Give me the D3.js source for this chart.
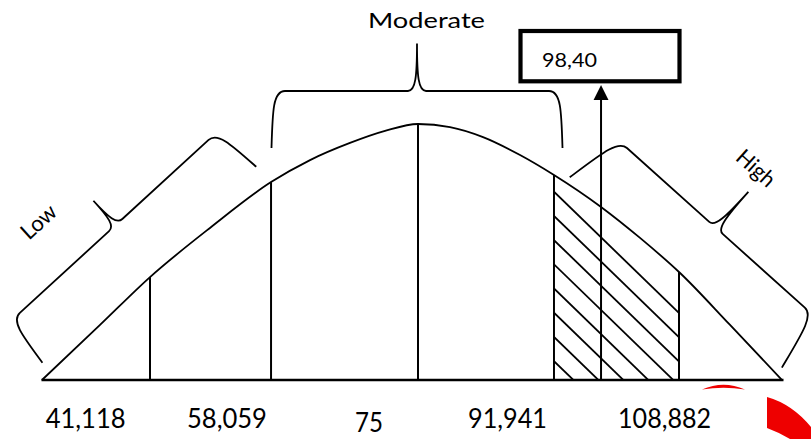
<!DOCTYPE html>
<html><head><meta charset="utf-8">
<script src="https://cdn.jsdelivr.net/npm/d3@7"></script>
<style>html,body{margin:0;padding:0;background:#fff;} svg{display:block;}</style>
</head><body>
<svg id="c" width="811" height="439"></svg>
<script>
// ---- data ----
const curveX = [27460, 34800, 41120, 48700, 56420, 61350, 66400, 70830, 75000, 79050, 83220, 87900, 92190, 98140, 103070, 108130, 114450, 121020];
const curveY = [0, 0.215, 0.402, 0.594, 0.773, 0.859, 0.926, 0.973, 1.0, 0.988, 0.949, 0.879, 0.801, 0.676, 0.555, 0.418, 0.215, 0];
const dividers = [41120, 56420, 75000, 92190, 108000];
const hatchRange = [92190, 108000];
const markerValue = 98140;
const markerLabel = "98,40";
const tickLabels = ["41,118", "58,059", "75", "91,941", "108,882"];
const tickLabelAt = [32980, 50850, 68800, 86320, 106170];
const groupLabels = ["Low", "Moderate", "High"];

// ---- layout / style ----
const FONT = "Lato, Carlito, Calibri, 'Open Sans', sans-serif";
const svg = d3.select("#c");
const x = d3.scaleLinear().domain([58059, 91941]).range([284, 552]);
const y = d3.scaleLinear().domain([0, 1]).range([380, 124]);
const pts = curveX.map((v, i) => [v, curveY[i]]);

// hatch
const hx0 = x(hatchRange[0]), hx1 = x(hatchRange[1]);
svg.append("clipPath").attr("id", "hclip").append("rect")
  .attr("x", hx0).attr("y", 0).attr("width", hx1 - hx0).attr("height", y(0));
const hatchG = svg.append("g").attr("clip-path", "url(#hclip)");
const slope = 0.97;
d3.range(8).forEach(i => {
  const y0 = 191.7 + i * 24.2;
  hatchG.append("line").attr("x1", hx0).attr("y1", y0)
    .attr("x2", hx0 + 200).attr("y2", y0 + 200 * slope)
    .attr("stroke", "#000").attr("stroke-width", 1.8);
});

// curve
const curvePath = svg.append("path")
  .attr("d", d3.line().x(d => x(d[0])).y(d => y(d[1])).curve(d3.curveMonotoneX)(pts))
  .attr("fill", "none").attr("stroke", "#000").attr("stroke-width", 1.8);

function yAt(px) {
  const node = curvePath.node();
  const total = node.getTotalLength();
  let lo = 0, hi = total;
  for (let k = 0; k < 40; k++) {
    const mid = (lo + hi) / 2;
    if (node.getPointAtLength(mid).x < px) lo = mid; else hi = mid;
  }
  return node.getPointAtLength((lo + hi) / 2).y;
}

// dividers
dividers.forEach(v => {
  const px = x(v);
  svg.append("line").attr("x1", px).attr("x2", px)
    .attr("y1", y(0)).attr("y2", yAt(px))
    .attr("stroke", "#000").attr("stroke-width", 2);
});

// baseline
svg.append("line").attr("x1", x(curveX[0]) - 0.5).attr("x2", x(curveX[curveX.length - 1]) + 1.5)
  .attr("y1", y(0)).attr("y2", y(0)).attr("stroke", "#000").attr("stroke-width", 2.4);

// tick labels
const tickW = [80, 80, 28, 79, 93];
tickLabels.forEach((t, i) => {
  svg.append("text").attr("x", x(tickLabelAt[i])).attr("y", t === "75" ? 432 : 428)
    .attr("text-anchor", "middle").attr("font-family", FONT).attr("font-size", 26)
    .attr("textLength", tickW[i]).attr("lengthAdjust", "spacingAndGlyphs")
    .text(t);
});

// marker arrow
const mx = x(markerValue);
svg.append("line").attr("x1", mx).attr("x2", mx).attr("y1", y(0)).attr("y2", 99)
  .attr("stroke", "#000").attr("stroke-width", 2);
svg.append("path").attr("d", `M${mx},85 L${mx - 7.5},100 L${mx + 7.5},100 Z`).attr("fill", "#000");

// marker box
svg.append("rect").attr("x", 520.5).attr("y", 31).attr("width", 159).attr("height", 50.3)
  .attr("fill", "#fff").attr("stroke", "#000").attr("stroke-width", 4.2);
svg.append("text").attr("x", 542).attr("y", 66.7).attr("font-family", FONT).attr("font-size", 18.5)
  .attr("textLength", 55).attr("lengthAdjust", "spacingAndGlyphs").text(markerLabel);

// braces
function bracePath(L, arm, flare, cusp, c, r = 12, w = 9) {
  return `M${-flare},${arm} C${-flare * 0.3},${arm * 0.35} 0,0 ${r},0 L${c - w},0 ` +
    `C${c - 1.5},0 ${c},${-cusp * 0.3} ${c},${-cusp} ` +
    `C${c},${-cusp * 0.3} ${c + 1.5},0 ${c + w},0 L${L - r},0 ` +
    `C${L},0 ${L + flare * 0.3},${arm * 0.35} ${L + flare},${arm}`;
}
const braces = [
  { sx: 11, sy: 321, ang: -42.5, L: 280, arm: 52, flare: 5, cusp: 33, c: 142 },
  { sx: 273, sy: 91, ang: 0, L: 288, arm: 57, flare: 1.5, cusp: 47.5, c: 144 },
  { sx: 618, sy: 140, ang: 41.9, L: 263, arm: 60, flare: 11, cusp: 48.5, c: 131.6 }
];
braces.forEach(b => {
  svg.append("path").attr("d", bracePath(b.L, b.arm, b.flare, b.cusp, b.c))
    .attr("transform", `translate(${b.sx},${b.sy}) rotate(${b.ang})`)
    .attr("fill", "none").attr("stroke", "#000").attr("stroke-width", 1.8);
});

// group labels
const gl = [
  { cx: 38, cy: 221, ang: -42.5, size: 22, w: 40 },
  { cx: 426.5, cy: 19, ang: 0, size: 21, w: 117 },
  { cx: 756.5, cy: 167.5, ang: 41.9, size: 22, w: 44 }
];
groupLabels.forEach((t, i) => {
  const g = gl[i];
  svg.append("text").attr("transform", `translate(${g.cx},${g.cy}) rotate(${g.ang})`)
    .attr("text-anchor", "middle").attr("dominant-baseline", "central")
    .attr("font-family", FONT).attr("font-size", g.size)
    .attr("textLength", g.w).attr("lengthAdjust", "spacingAndGlyphs").text(t);
});

// red fragments (bottom right)
svg.append("path").attr("d", "M702,389.5 Q723.5,380 745,389.5 Q723.5,386 702,389.5 Z").attr("fill", "#ee0000");
svg.append("path").attr("d", "M767,397 Q792,404 811,427 L811,439 L790,439 Q778,432 767,428 Z").attr("fill", "#ee0000");
</script>
</body></html>
